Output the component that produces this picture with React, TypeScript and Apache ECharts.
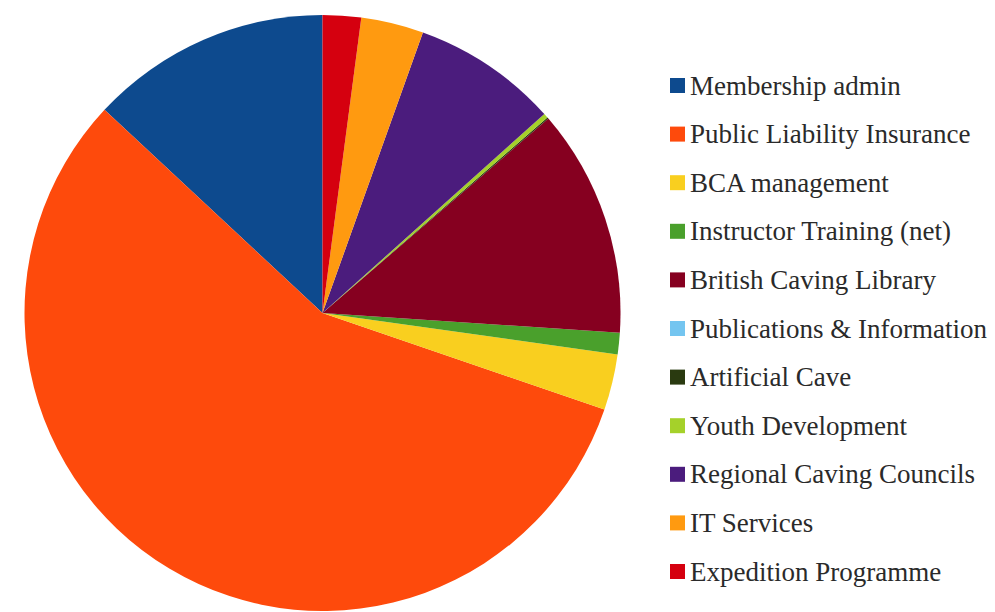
import React, { useEffect, useRef } from "react";
import * as echarts from "echarts";

const categories = [
  "Membership admin",
  "Public Liability Insurance",
  "BCA management",
  "Instructor Training (net)",
  "British Caving Library",
  "Publications & Information",
  "Artificial Cave",
  "Youth Development",
  "Regional Caving Councils",
  "IT Services",
  "Expedition Programme",
];

const values = [13.06, 56.69, 3.03, 1.17, 12.36, 0, 0.08, 0.25, 7.89, 3.39, 2.08];

const colors = [
  "#0D4A8E",
  "#FE4A0C",
  "#F9CF1F",
  "#4AA02C",
  "#860020",
  "#74C5F0",
  "#2A3A10",
  "#A5D12A",
  "#4B1C7D",
  "#FF9A10",
  "#D5000F",
];

export default function App() {
  const ref = useRef<HTMLDivElement>(null);
  useEffect(() => {
    if (!ref.current) return;
    const chart = echarts.init(ref.current, null, { renderer: "svg" });
    chart.setOption({
      animation: false,
      backgroundColor: "#ffffff",
      color: colors,
      legend: {
        orient: "vertical",
        left: 665,
        top: 67,
        itemWidth: 15,
        itemHeight: 15,
        itemGap: 21.6,
        icon: "rect",
        textStyle: {
          fontFamily: "'Liberation Serif', 'Times New Roman', serif",
          fontSize: 27,
          lineHeight: 27,
          color: "#2a2a2a",
          padding: [0, 0, 0, 0],
        },
        data: categories,
      },
      series: [
        {
          type: "pie",
          center: [322.5, 313],
          radius: 298,
          startAngle: 90,
          clockwise: false,
          label: { show: false },
          labelLine: { show: false },
          itemStyle: { borderWidth: 0 },
          emphasis: { disabled: true },
          data: categories.map((name, i) => ({ name, value: values[i] })),
        },
      ],
    });
    return () => chart.dispose();
  }, []);
  return (
    <div
      ref={ref}
      style={{ position: "fixed", left: 0, top: 0, width: 995, height: 612 }}
    />
  );
}
